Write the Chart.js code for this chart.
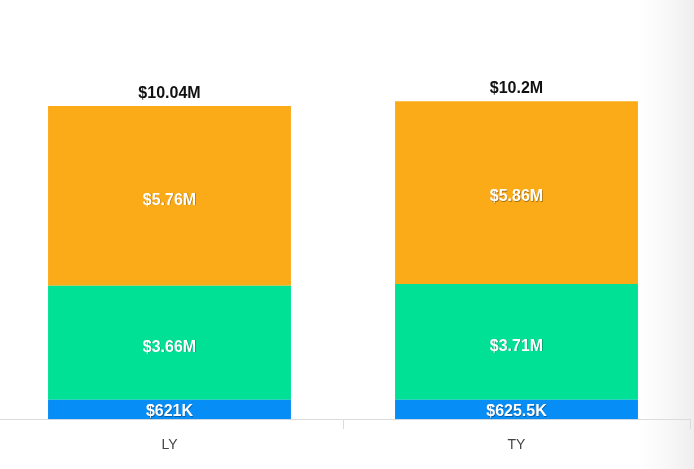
<!DOCTYPE html>
<html>
<head>
<meta charset="utf-8">
<script src="https://cdn.jsdelivr.net/npm/chart.js@4"></script>
<style>
  html, body { margin: 0; padding: 0; }
  body {
    width: 694px; height: 469px; overflow: hidden; position: relative;
    background: linear-gradient(to right, #ffffff 0px, #ffffff 640px, #f7f7f7 670px, #eeeeee 694px);
  }
  #wrap { position: absolute; left: -4px; top: 0; width: 696px; height: 469px; }
</style>
</head>
<body>
<div id="wrap"><canvas id="periodChart"></canvas></div>
<script>
// values in millions of dollars
const categories = ['LY', 'TY'];
const blueValues = [0.621, 0.6255];
const greenValues = [3.66, 3.71];
const orangeValues = [5.76, 5.86];

function formatMoney(v) {
  if (v < 1) return '$' + parseFloat((v * 1000).toFixed(1)) + 'K';
  return '$' + parseFloat(v.toFixed(2)) + 'M';
}

const labelPlugin = {
  id: 'segmentLabels',
  afterDatasetsDraw(chart) {
    const ctx = chart.ctx;
    ctx.save();
    ctx.textAlign = 'center';
    ctx.textBaseline = 'middle';
    ctx.font = 'bold 16px "Liberation Sans", Arial, sans-serif';
    chart.data.datasets.forEach(function(ds, i) {
      const meta = chart.getDatasetMeta(i);
      meta.data.forEach(function(bar, j) {
        const mid = (bar.y + bar.base) / 2 + (i === 0 ? 2.5 : 4.5);
        ctx.fillStyle = 'rgba(0,0,0,0.35)';
        ctx.fillText(formatMoney(ds.data[j]), bar.x + 0.6, mid + 0.6);
        ctx.fillStyle = '#ffffff';
        ctx.fillText(formatMoney(ds.data[j]), bar.x, mid);
      });
    });
    // totals on top
    const last = chart.getDatasetMeta(chart.data.datasets.length - 1);
    ctx.fillStyle = '#111111';
    last.data.forEach(function(bar, j) {
      let total = 0;
      chart.data.datasets.forEach(function(ds) { total += ds.data[j]; });
      ctx.fillText(formatMoney(total), bar.x, bar.y - 12.5);
    });
    ctx.restore();
  }
};

new Chart(document.getElementById('periodChart'), {
  type: 'bar',
  data: {
    labels: categories,
    datasets: [
      { label: 'Blue', data: blueValues, backgroundColor: 'rgb(7,141,246)' },
      { label: 'Green', data: greenValues, backgroundColor: 'rgb(1,225,150)' },
      { label: 'Orange', data: orangeValues, backgroundColor: 'rgb(252,171,24)' }
    ]
  },
  options: {
    responsive: true,
    maintainAspectRatio: false,
    animation: false,
    layout: { padding: { left: 0, right: 2, top: 0, bottom: 7 } },
    datasets: { bar: { categoryPercentage: 1, barPercentage: 0.70 } },
    scales: {
      x: {
        stacked: true,
        grid: { drawOnChartArea: false, drawTicks: true, tickLength: 10, color: '#dcdcdc' },
        border: { color: '#dcdcdc' },
        ticks: { color: '#444444', padding: 8, font: { size: 14, family: '"Liberation Sans", Arial, sans-serif' } }
      },
      y: {
        stacked: true,
        display: false,
        min: 0,
        max: 13.44
      }
    },
    plugins: {
      legend: { display: false },
      tooltip: { enabled: false }
    }
  },
  plugins: [labelPlugin]
});
</script>
</body>
</html>
